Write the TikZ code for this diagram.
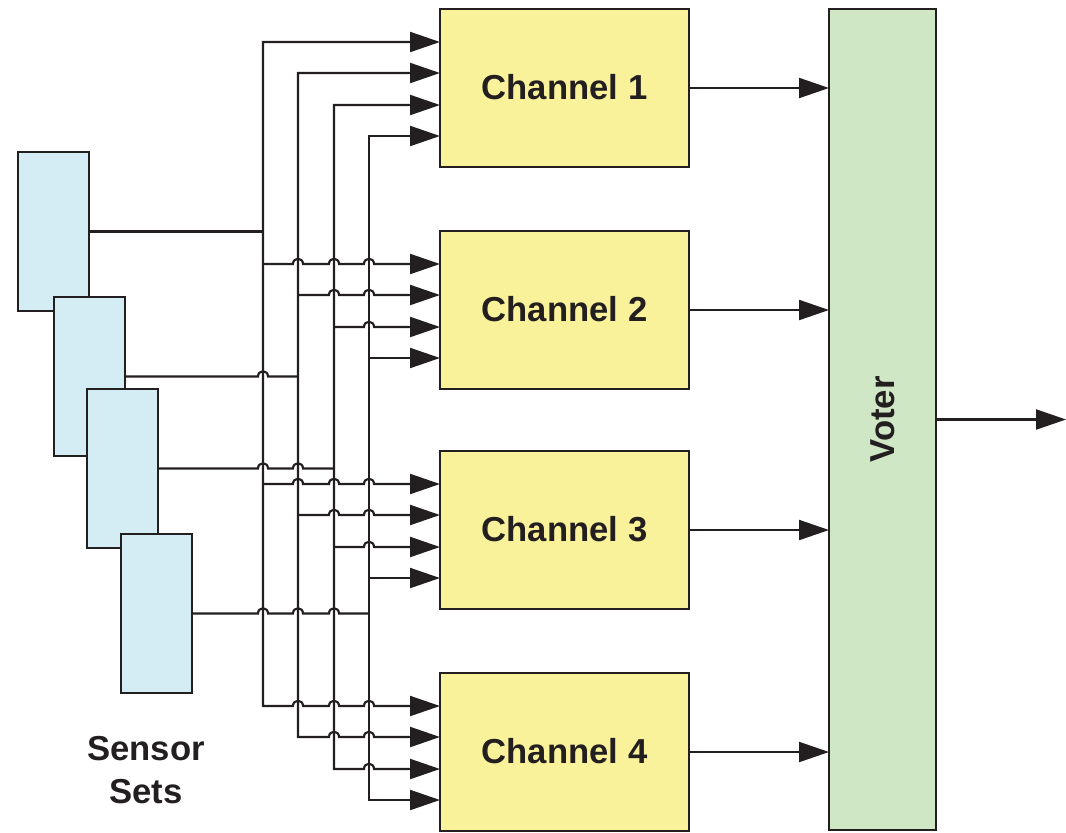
\documentclass[tikz,border=0pt]{standalone}
\usepackage{fontspec}
\setmainfont{Liberation Sans}
\usetikzlibrary{arrows.meta,calc}
\definecolor{ink}{HTML}{231F20}
\definecolor{chanfill}{HTML}{FAF29A}
\definecolor{sensfill}{HTML}{D4ECF3}
\definecolor{votefill}{HTML}{D0E7C5}
\newcommand\hop[2]{-- ({#1-5},{#2}) .. controls ({#1-5},{#2-7}) and ({#1+5},{#2-7}) .. ({#1+5},{#2})}
\begin{document}
\begin{tikzpicture}[x=0.75pt,y=-0.75pt,
  box/.style={draw=ink, line width=2.2pt, inner sep=0pt, outer sep=0pt, anchor=north west},
  chan/.style={box, fill=chanfill, minimum width=186.75pt, minimum height=118.5pt},
  sens/.style={box, fill=sensfill, minimum width=53.25pt, minimum height=119.25pt},
  votebox/.style={box, fill=votefill, minimum width=80.25pt, minimum height=615.75pt},
  lbl/.style={text=ink, font=\bfseries\fontsize{26}{32}\selectfont, inner sep=0pt},
  wire/.style={draw=ink, line width=1.6pt},
  arr/.style={wire, -{Triangle[length=22.5pt,width=15pt]}},
  dbl/.style={wire, {Triangle[length=22.5pt,width=15pt]}-{Triangle[length=22.5pt,width=15pt]}},
]
\useasboundingbox (0,0) rectangle (1066,832);

% sensor sets
\node[sens] (s1) at (18,152) {};
\node[sens] (s2) at (54,297) {};
\node[sens] (s3) at (87,389) {};
\node[sens] (s4) at (121,534) {};
\node[lbl, align=center] (sensorlabel) at (146,770) {Sensor\\Sets};

% channels
\foreach \k/\t in {1/9,2/231,3/451,4/673}{
  \node[chan] (ch\k) at (440,\t) {};
  \node[lbl] (chl\k) at ([yshift=1pt]ch\k.center) {Channel \k};
  \foreach \i/\o in {1/33,2/64,3/96,4/127}
    \coordinate (in-\k-\i) at (440,\t+\o);
}

% voter
\node[votebox] (voter) at (829,9) {};
\node[lbl, rotate=90] (voterlabel) at (voter.center) {Voter};

% bus columns
\coordinate (b1) at (263,0);
\coordinate (b2) at (298,0);
\coordinate (b3) at (334,0);
\coordinate (b4) at (369,0);

% sensor outputs to buses
\draw[wire] (s1.east) -- (s1.east -| b1);
\draw[wire] (s2.east) \hop{263}{376.5} -- (s2.east -| b2);
\draw[wire] (s3.east) \hop{263}{468.5} \hop{298}{468.5} -- (s3.east -| b3);
\draw[wire] (s4.east) \hop{263}{613.5} \hop{298}{613.5} \hop{334}{613.5} -- (s4.east -| b4);

% buses feeding channel 1 and channel 4
\draw[dbl] (in-1-1) -- (in-1-1 -| b1) -- (in-4-1 -| b1) \hop{298}{706} \hop{334}{706} \hop{369}{706} -- (in-4-1);
\draw[dbl] (in-1-2) -- (in-1-2 -| b2) -- (in-4-2 -| b2) \hop{334}{737} \hop{369}{737} -- (in-4-2);
\draw[dbl] (in-1-3) -- (in-1-3 -| b3) -- (in-4-3 -| b3) \hop{369}{769} -- (in-4-3);
\draw[dbl] (in-1-4) -- (in-1-4 -| b4) -- (in-4-4 -| b4) -- (in-4-4);

% taps to channel 2
\draw[arr] (in-2-1 -| b1) \hop{298}{264} \hop{334}{264} \hop{369}{264} -- (in-2-1);
\draw[arr] (in-2-2 -| b2) \hop{334}{295} \hop{369}{295} -- (in-2-2);
\draw[arr] (in-2-3 -| b3) \hop{369}{327} -- (in-2-3);
\draw[arr] (in-2-4 -| b4) -- (in-2-4);

% taps to channel 3
\draw[arr] (in-3-1 -| b1) \hop{298}{484} \hop{334}{484} \hop{369}{484} -- (in-3-1);
\draw[arr] (in-3-2 -| b2) \hop{334}{515} \hop{369}{515} -- (in-3-2);
\draw[arr] (in-3-3 -| b3) \hop{369}{547} -- (in-3-3);
\draw[arr] (in-3-4 -| b4) -- (in-3-4);

% channel outputs to voter
\foreach \k in {1,2,3,4}
  \draw[arr] (ch\k.east) -- (ch\k.east -| voter.west);

% voter output
\coordinate (out) at (1066,419.5);
\draw[arr] (voter.east) -- (out);
\end{tikzpicture}
\end{document}
